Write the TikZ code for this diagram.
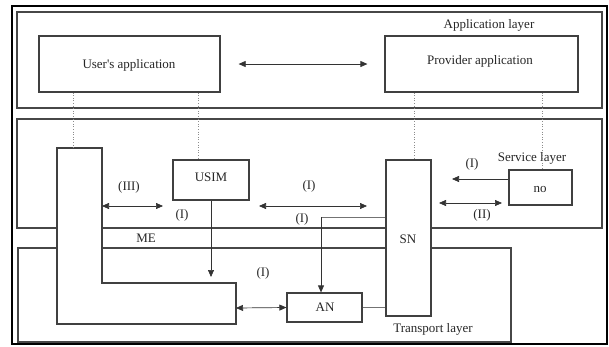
\documentclass[tikz,border=0pt]{standalone}
\usepackage{fontspec}
\setmainfont{Liberation Serif}
\usetikzlibrary{arrows.meta}
\begin{document}
\begin{tikzpicture}[x=1pt,y=-1pt,
  layerbox/.style={draw=black!72,line width=1.3pt},
  box/.style={draw=black!75,line width=1.2pt,fill=white,inner sep=0pt},
  lbl/.style={font=\fontsize{13}{15}\selectfont,inner sep=0pt,text=black!85},
  dots/.style={draw=black!45,dotted,line width=0.6pt},
  conn/.style={draw=black!80,line width=0.7pt},
  arr/.style={conn,-{Triangle[length=7pt,width=6pt]}},
  darr/.style={conn,{Triangle[length=7pt,width=6pt]}-{Triangle[length=7pt,width=6pt]}},
  grayline/.style={draw=black!55,line width=1pt}]
\useasboundingbox (0,0) rectangle (609,346);
% outer frame
\draw[line width=1.6pt] (12,6) rectangle (607,344);
% layers
\draw[layerbox] (17,12) rectangle (602,108);
\draw[layerbox] (17,119) rectangle (602,228);
\draw[layerbox] (18,248) rectangle (511,342);
\node[lbl] (applayer) at (489,25) {Application layer};
\node[lbl] (servlayer) at (532,158) {Service layer};
\node[lbl] (translayer) at (433,329) {Transport layer};
\node[lbl] (me) at (146,238) {ME};
% application boxes
\node[box,minimum width=181pt,minimum height=56pt] (ua) at (129.5,64) {};
\node[lbl] (uatext) at (129,65) {User\textquotesingle s application};
\node[box,minimum width=193pt,minimum height=56pt] (pa) at (481.5,64) {};
\node[lbl] (patext) at (480,61) {Provider application};
% L-shaped ME block
\draw[box] (57,148) coordinate (Ltl) -- (102,148) coordinate (Ltr) -- (102,283) coordinate (Lin)
  -- (236,283) coordinate (Lrt) -- (236,324) coordinate (Lrb) -- (57,324) -- cycle;
% SN
\node[box,minimum width=45pt,minimum height=156pt] (sn) at (408.5,238) {};
\node[lbl] (sntext) at (408,239) {SN};
% USIM
\node[box,minimum width=76pt,minimum height=40pt] (usim) at (211,180) {};
\node[lbl] (usimtext) at (211,177) {USIM};
% no
\node[box,minimum width=63pt,minimum height=35pt] (no) at (540.5,187.5) {};
\node[lbl] (notext) at (540,189) {no};
% AN
\node[box,minimum width=75pt,minimum height=29pt] (an) at (324.5,307.5) {};
\node[lbl] (antext) at (325,307) {AN};
% dotted links
\draw[dots] (ua.south -| 73,0) -- (73,148);
\draw[dots] (ua.south -| 198,0) -- (usim.north -| 198,0);
\draw[dots] (pa.south -| 414,0) -- (sn.north -| 414,0);
\draw[dots] (pa.south -| 542,0) -- (no.north -| 542,0);
% arrows
\draw[darr,shorten <=18pt,shorten >=17pt] (ua.east) -- (pa.west |- ua.east);
\coordinate (a3l) at (102,206);
\coordinate (a3r) at (163,206);
\draw[darr] (a3l) -- (a3r);
\coordinate (m1) at (259,206);
\coordinate (m2) at (367,206);
\draw[darr] (m1) -- (m2);
\coordinate (nol) at (452,179);
\draw[arr] (no.west |- nol) -- (nol);
\coordinate (d2l) at (439,203);
\coordinate (d2r) at (502,203);
\draw[darr] (d2l) -- (d2r);
\coordinate (ud) at (211,277);
\draw[arr] (usim.south) -- (ud);
\draw[grayline] (sn.west |- 0,217) -- (321,217);
\draw[arr] (321,217) -- (an.north -| 321,0);
\draw[grayline] (an.east) -- (sn.west |- an.east);
\draw[darr] (236,308) -- (an.west);
% labels
\node[lbl] (l1) at (129,187) {(III)};
\node[lbl] (l2) at (182,215) {(I)};
\node[lbl] (l3) at (309,186) {(I)};
\node[lbl] (l4) at (302,219) {(I)};
\node[lbl] (l5) at (472,164) {(I)};
\node[lbl] (l6) at (482,215) {(II)};
\node[lbl] (l7) at (263,273) {(I)};
\end{tikzpicture}
\end{document}
